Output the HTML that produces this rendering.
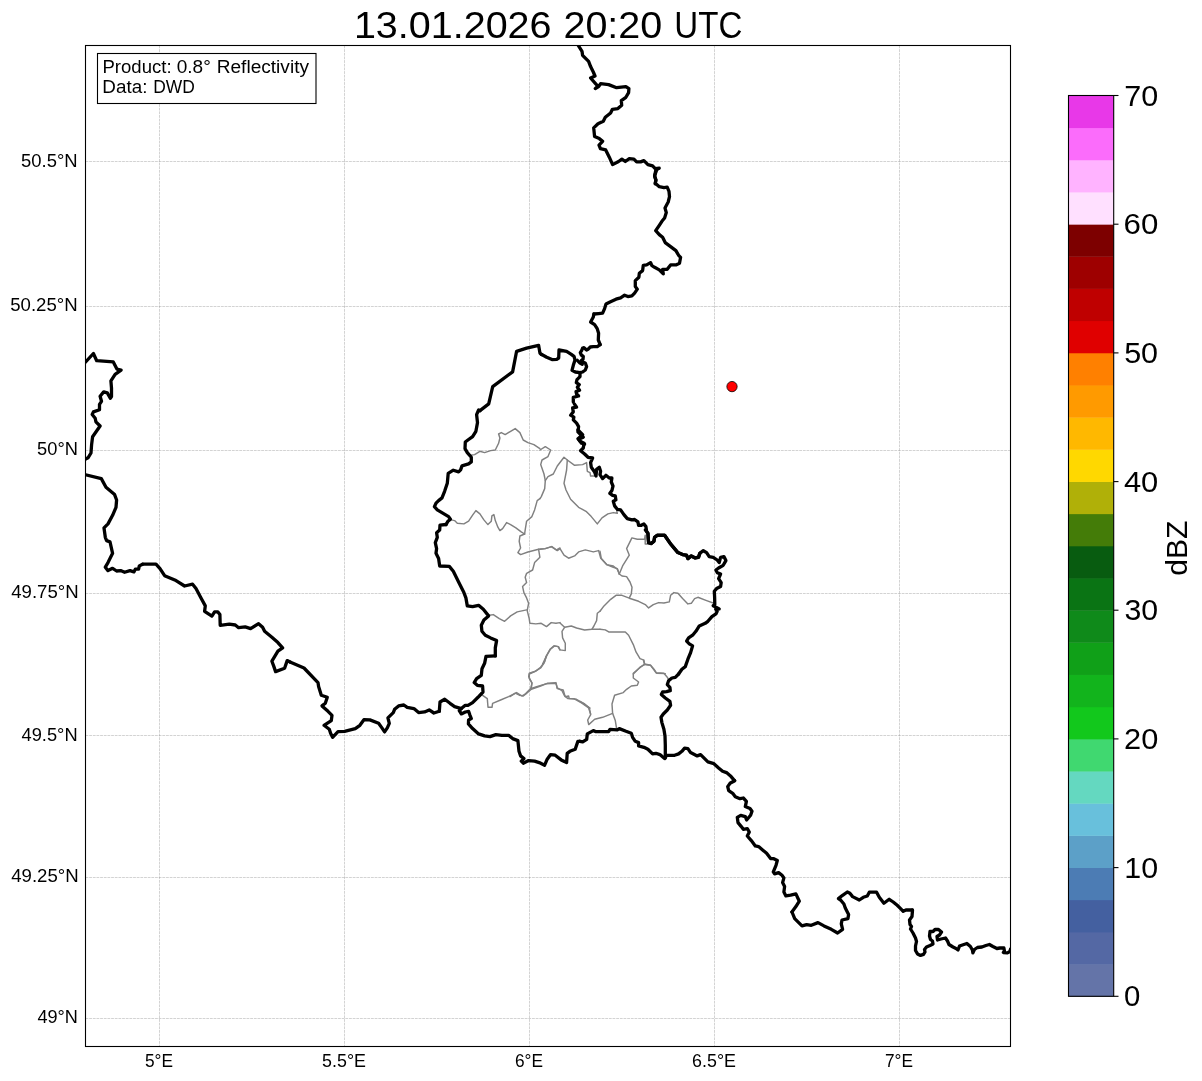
<!DOCTYPE html>
<html><head><meta charset="utf-8"><title>radar</title>
<style>
html,body{margin:0;padding:0;background:#fff;}
body{width:1202px;height:1081px;overflow:hidden;font-family:"Liberation Sans",sans-serif;}
svg{display:block;position:absolute;left:0;top:0;will-change:transform;}
text{font-family:"Liberation Sans",sans-serif;fill:#000;}
</style></head><body>
<svg width="1202" height="1081" viewBox="0 0 1202 1081">
<rect x="0" y="0" width="1202" height="1081" fill="#fff"/>
<defs><clipPath id="ax"><rect x="85.5" y="45.5" width="925.0" height="1001.0"/></clipPath></defs>
<g stroke="#808080" stroke-opacity="0.5" stroke-width="0.69" stroke-dasharray="2.8 0.86" fill="none">
<line x1="159.5" y1="45.5" x2="159.5" y2="1046.5"/>
<line x1="344.5" y1="45.5" x2="344.5" y2="1046.5"/>
<line x1="529.5" y1="45.5" x2="529.5" y2="1046.5"/>
<line x1="714.5" y1="45.5" x2="714.5" y2="1046.5"/>
<line x1="899.5" y1="45.5" x2="899.5" y2="1046.5"/>
<line x1="85.5" y1="1018.5" x2="1010.5" y2="1018.5"/>
<line x1="85.5" y1="877.5" x2="1010.5" y2="877.5"/>
<line x1="85.5" y1="735.5" x2="1010.5" y2="735.5"/>
<line x1="85.5" y1="593.5" x2="1010.5" y2="593.5"/>
<line x1="85.5" y1="450.5" x2="1010.5" y2="450.5"/>
<line x1="85.5" y1="306.5" x2="1010.5" y2="306.5"/>
<line x1="85.5" y1="161.5" x2="1010.5" y2="161.5"/>
</g>
<g clip-path="url(#ax)" fill="none" stroke-linejoin="round" stroke-linecap="round">
<path d="M540.0 450.0 L545.3 446.7 L550.7 450.0 L548.0 456.6 L542.0 460.0 L540.7 464.6 L544.0 474.0 L545.3 480.6 L544.7 488.6 L541.3 496.6 L540.0 498.6" stroke="#808080" stroke-width="1.45"/>
<path d="M545.3 480.6 L548.0 476.6 L553.3 474.0 L557.3 466.0 L564.0 457.3 L567.3 460.0 L574.6 465.3 L582.6 464.6 L586.6 462.6 L587.3 471.3 L590.0 472.6 L590.6 476.0 L594.6 476.0" stroke="#808080" stroke-width="1.45"/>
<path d="M567.3 460.0 L566.6 470.0 L564.0 483.3 L566.0 490.0 L570.6 499.3 L578.6 507.3 L586.0 511.3 L591.3 516.6 L597.3 523.9 L602.0 517.9 L607.9 513.9 L613.3 512.6 L617.3 513.3 L616.6 509.9" stroke="#808080" stroke-width="1.45"/>
<path d="M540.0 549.2 L545.3 548.6 L551.3 546.6 L557.3 550.6 L560.0 548.6 L564.0 555.2 L568.6 558.2 L574.6 555.9 L578.6 551.9 L585.3 549.9 L593.3 551.9 L598.6 550.6 L600.6 557.9 L606.6 564.6 L613.3 567.2 L617.3 568.6 L619.3 574.0" stroke="#808080" stroke-width="1.45"/>
<path d="M619.3 574.0 L622.6 565.9 L629.3 555.2 L626.6 548.6 L631.9 537.9 L637.3 539.2 L644.6 539.2 L645.2 535.2 L645.2 543.9 L647.9 543.9" stroke="#808080" stroke-width="1.45"/>
<path d="M619.3 574.0 L622.0 576.0 L626.6 576.6 L630.0 582.0 L632.0 587.3 L631.3 593.9 L629.3 597.9" stroke="#808080" stroke-width="1.45"/>
<path d="M600.0 551.3 L601.3 558.6 L606.7 564.6 L613.3 566.0 L617.3 569.3 L619.3 574.0" stroke="#808080" stroke-width="1.45"/>
<path d="M600.0 611.3 L604.0 605.9 L610.7 599.3 L616.0 595.3 L622.0 595.3 L629.3 598.2 L638.6 601.3 L645.3 604.6 L648.6 607.9 L653.3 604.6 L658.6 602.6 L663.9 603.0 L669.3 601.9 L670.6 595.3 L673.9 592.6 L677.9 593.3 L682.6 598.6 L687.9 603.9 L691.3 603.3 L694.6 598.6 L697.9 597.3 L706.6 600.6 L713.9 603.3" stroke="#808080" stroke-width="1.45"/>
<path d="M600.0 629.3 L605.3 629.9 L608.7 631.9 L625.3 631.9 L628.6 635.2 L633.3 644.6 L636.0 651.9 L640.0 658.6 L643.3 659.9 L644.6 664.6 L640.0 667.2 L633.3 674.0" stroke="#808080" stroke-width="1.45"/>
<path d="M644.6 664.6 L650.6 665.2 L654.0 669.2 L656.6 673.2 L665.3 673.6" stroke="#808080" stroke-width="1.45"/>
<path d="M643.9 660.0 L644.6 664.0 L638.6 668.7 L633.3 673.3 L633.3 678.0 L638.6 682.0 L637.3 685.3 L631.3 686.0 L626.6 689.3 L623.3 692.6 L614.6 695.3 L612.0 704.0 L612.6 713.3 L615.3 720.6 L616.6 728.6" stroke="#808080" stroke-width="1.45"/>
<path d="M644.6 664.0 L650.6 665.3 L655.9 672.7 L663.9 673.3 L667.3 677.3 L669.0 680.0" stroke="#808080" stroke-width="1.45"/>
<path d="M612.6 713.3 L602.6 717.3 L594.7 719.3 L588.7 724.6 L587.7 720.0 L590.7 714.6 L589.3 708.0 L584.7 704.0 L580.0 701.3" stroke="#808080" stroke-width="1.45"/>
<path d="M470.6 455.3 L474.6 454.6 L479.9 451.3 L484.6 452.6 L490.6 450.6 L495.3 450.0 L498.6 443.3 L499.9 438.0 L498.6 434.0 L501.3 432.6 L505.2 434.6 L510.6 431.3 L515.2 428.6 L519.9 432.6 L523.2 440.0 L527.9 442.6 L533.9 444.6 L539.9 448.6" stroke="#808080" stroke-width="1.45"/>
<path d="M539.9 498.6 L537.2 500.6 L534.6 509.9 L531.9 516.6 L526.6 521.2 L525.2 529.9 L524.6 534.0" stroke="#808080" stroke-width="1.45"/>
<path d="M451.3 519.9 L454.6 520.6 L457.3 523.2 L463.9 523.9 L468.6 521.2 L472.6 515.2 L475.9 510.6 L479.9 513.9 L483.9 519.9 L487.9 524.6 L491.3 521.2 L491.9 515.9 L493.9 514.6 L495.3 520.6 L497.9 527.2 L499.9 530.6 L502.6 528.6 L506.6 522.6 L510.6 524.6 L515.9 527.9 L521.2 531.9 L524.6 534.0" stroke="#808080" stroke-width="1.45"/>
<path d="M524.6 534.0 L519.9 536.0 L519.2 541.3 L520.6 548.0 L517.9 552.6 L520.6 554.6 L527.9 552.0 L538.6 549.3 L539.9 557.3 L534.6 562.6 L532.6 570.0 L526.6 573.3 L525.2 577.3 L526.6 582.6 L522.6 586.6 L523.9 592.6 L526.6 597.9 L528.6 603.3 L527.2 610.6 L529.2 618.6 L529.9 623.3 L535.9 623.9 L541.2 623.3 L546.5 626.6 L551.2 622.6 L555.9 623.3 L560.0 622.6" stroke="#808080" stroke-width="1.45"/>
<path d="M538.6 549.3 L545.2 548.6 L551.9 546.6 L556.5 550.0 L560.0 548.0" stroke="#808080" stroke-width="1.45"/>
<path d="M489.3 615.3 L493.3 614.6 L499.3 618.6 L504.6 621.3 L510.6 615.9 L517.2 611.9 L526.6 609.9" stroke="#808080" stroke-width="1.45"/>
<path d="M542.6 664.0 L546.5 655.9 L550.5 649.2 L554.5 645.9 L558.5 646.6 L560.0 649.9" stroke="#808080" stroke-width="1.45"/>
<path d="M482.6 695.3 L487.3 698.6 L488.0 707.3 L492.0 707.3 L492.6 703.3 L500.6 700.0 L508.6 696.6 L516.6 692.6 L521.9 696.0 L525.9 694.0 L531.3 689.3 L540.6 686.0 L547.2 683.3 L555.9 682.6 L557.2 688.6 L563.2 690.0 L565.2 696.6 L568.6 696.0 L569.2 698.6 L576.5 699.3 L583.2 703.3 L590.0 708.0" stroke="#808080" stroke-width="1.45"/>
<path d="M546.6 655.9 L543.9 663.3 L540.6 668.0 L535.2 671.3 L529.3 674.0 L529.3 678.6 L531.9 682.6 L531.3 689.3" stroke="#808080" stroke-width="1.45"/>
<path d="M599.9 611.3 L597.3 613.3 L596.6 620.6 L593.9 626.0 L591.9 629.3 L584.6 630.0 L576.6 628.0 L571.3 626.0 L564.6 627.3 L560.0 622.9" stroke="#808080" stroke-width="1.45"/>
<path d="M591.9 629.3 L599.9 629.3" stroke="#808080" stroke-width="1.45"/>
<path d="M564.6 627.3 L562.0 631.3 L562.6 637.9 L565.3 643.3 L565.3 650.6 L560.0 649.9 L558.0 646.6 L554.0 645.9 L550.0 649.3 L546.0 656.6 L544.6 661.9 L540.6 667.3 L535.3 671.3 L529.3 673.3 L528.7 676.6 L532.0 683.2 L530.7 688.6 L526.7 692.6 L523.3 695.9 L519.3 695.2 L515.3 693.2 L510.0 696.6" stroke="#808080" stroke-width="1.45"/>
<path d="M530.7 688.6 L536.6 686.6 L546.0 683.9 L556.0 683.2 L557.3 687.9 L562.0 690.6 L564.6 695.9 L568.0 698.6 L573.9 698.6 L581.9 703.2 L588.6 707.9 L590.6 714.0" stroke="#808080" stroke-width="1.45"/>
<path d="M578.4 45.6 L582.0 51.3 L582.6 55.3 L588.6 61.3 L590.6 66.6 L593.3 72.0 L595.0 76.0 L590.6 78.0 L595.3 83.3 L597.7 86.0 L595.3 88.6 L598.6 86.6 L600.6 83.7 L608.6 84.6 L616.6 87.7 L625.9 86.6 L628.9 88.6 L628.6 92.6 L625.9 97.3 L621.3 100.6 L621.7 105.3 L617.9 108.6 L612.4 109.3 L610.6 113.0 L605.3 117.3 L603.3 121.3 L598.0 123.7 L593.7 127.9 L594.6 136.6 L599.3 138.6 L602.6 141.3 L599.0 145.2 L600.4 148.6 L605.7 149.9 L609.3 157.2 L612.6 164.6 L618.6 161.5 L621.9 159.2 L625.3 161.5 L629.3 158.6 L633.9 159.2 L636.6 161.9 L640.6 161.9 L643.9 160.6 L647.9 164.6 L652.6 165.9 L655.2 168.6 L659.2 168.2 L655.9 169.9 L654.6 175.9 L655.9 179.9 L655.2 183.9" stroke="#000" stroke-width="3.3"/>
<path d="M656.6 170.0 L654.6 176.0 L655.9 180.0 L655.3 183.3 L659.3 186.7 L663.9 187.6 L667.2 187.1 L669.0 191.3 L669.5 196.6 L668.2 202.0 L665.0 208.0 L666.3 212.6 L664.6 218.0 L661.9 221.3 L659.3 225.3 L655.7 230.6 L659.3 234.6 L662.6 237.3 L665.2 242.6 L670.6 246.6 L675.9 250.6 L678.6 255.3 L680.6 257.3 L679.5 263.3 L675.9 264.9 L670.6 264.9 L667.2 269.3 L662.6 269.3 L663.3 273.9 L659.3 269.9 L654.6 267.3 L651.9 265.7 L650.6 262.6 L646.6 264.9 L643.3 265.3 L642.6 270.6 L639.3 273.3 L638.9 277.2 L635.3 280.6 L635.3 286.6 L637.3 289.2 L634.6 293.2 L631.9 295.9 L627.9 296.6 L624.6 295.2 L620.6 297.9 L616.0 299.2 L610.0 301.9 L606.0 303.9 L604.6 308.6 L602.6 313.2 L598.6 313.6 L594.0 314.0" stroke="#000" stroke-width="3.3"/>
<path d="M593.9 314.0 L593.2 317.3 L590.6 322.0 L594.6 324.6 L597.2 328.6 L598.6 333.3 L598.3 340.0 L600.2 344.6" stroke="#000" stroke-width="3.3"/>
<path d="M600.2 344.6 L599.6 345.0 L597.3 346.7 L593.3 346.7 L590.3 347.0 L588.0 349.3 L586.6 350.0 L584.0 347.7 L582.6 348.0 L581.6 350.7 L580.3 352.7 L581.3 355.0 L583.3 356.3 L583.0 359.3 L581.3 360.6 L582.6 362.0 L585.3 363.0 L586.6 366.6 L585.3 370.0 L582.6 372.0 L580.0 372.6 L580.0 376.6 L577.0 379.6 L576.3 382.6 L579.3 384.6 L577.3 387.3 L579.6 390.3 L576.0 391.6 L576.6 394.0 L578.6 396.0 L573.3 397.3 L573.3 402.0" stroke="#000" stroke-width="3.3"/>
<path d="M574.3 403.9 L576.6 407.2 L572.6 407.9 L573.3 411.9 L570.6 415.2 L573.9 417.2 L573.3 419.9 L576.6 423.2 L578.6 426.6 L577.9 431.9 L581.3 435.2 L583.3 437.2 L578.6 439.2 L581.3 443.2 L584.6 444.0" stroke="#000" stroke-width="3.3"/>
<path d="M580.0 372.6 L575.3 372.0 L572.0 370.3 L573.3 365.3 L575.0 360.0 L574.0 356.3 L571.3 354.3 L566.6 351.3 L559.0 350.0 L558.7 358.0 L556.7 359.3 L552.0 359.6 L546.7 357.3 L541.3 354.3" stroke="#000" stroke-width="3.3"/>
<path d="M541.3 354.4 L540.0 353.3 L538.6 345.3 L526.6 348.2 L516.6 351.3 L512.6 371.9 L492.7 386.6 L488.7 403.9 L480.0 410.6" stroke="#000" stroke-width="3.3"/>
<path d="M577.3 360.3 L580.0 363.0 L582.3 364.3" stroke="#000" stroke-width="3.3"/>
<path d="M578.0 430.0 L582.6 434.7 L578.0 438.7 L580.0 441.3 L584.0 443.3 L583.3 448.0 L580.6 450.7 L584.6 454.0 L588.0 457.3 L592.6 458.0 L590.6 462.6 L591.3 467.3 L594.6 472.0 L596.0 476.0 L596.6 469.3 L599.3 467.3 L600.6 471.3 L600.0 474.6 L602.6 478.6 L605.9 475.3 L609.3 478.0 L611.9 478.0 L611.3 482.0 L613.0 486.0 L611.9 490.6 L609.9 493.3 L612.6 495.3 L615.3 495.9 L615.9 499.9 L613.3 501.3 L614.6 505.9 L617.3 509.3 L620.6 509.9 L623.9 514.6 L627.3 518.6 L631.9 519.9 L634.6 519.5 L637.9 521.9 L638.6 525.3 L641.3 525.3 L643.9 523.9 L645.9 526.6 L646.6 531.3 L647.9 533.3 L648.2 537.9 L648.6 542.6 L651.2 543.5 L653.9 541.2 L654.6 537.2 L657.2 535.2 L664.6 535.2 L670.6 543.9 L677.9 552.6 L682.6 554.6 L686.5 555.2 L687.9 558.6 L691.2 555.9 L695.2 557.9 L698.5 557.2 L700.0 553.2" stroke="#000" stroke-width="3.3"/>
<path d="M645.3 530.0 L648.0 533.3 L648.2 538.0 L648.6 542.7 L651.3 543.6 L654.0 541.3 L654.6 537.3 L657.3 535.3 L664.6 535.3 L670.6 544.0 L677.9 552.6 L682.6 554.6 L686.6 555.3 L687.9 558.6 L691.3 556.0 L695.3 558.0 L698.6 557.3 L699.7 553.3 L703.3 550.7 L706.6 552.6 L709.2 556.6 L713.2 557.3 L717.2 560.0 L719.2 562.6 L720.6 557.3 L723.9 556.6 L725.9 560.6 L723.2 565.3 L718.6 568.0 L715.9 570.0 L717.2 572.6 L720.6 574.0 L718.6 578.6 L721.2 582.6 L720.6 586.6 L716.6 588.6 L714.3 591.3 L714.6 596.6 L714.8 604.6 L713.2 605.7 L719.2 608.9 L715.6 608.9 L717.2 611.3 L715.9 613.9 L711.9 616.6 L707.9 621.3 L705.2 623.3 L699.3 625.9 L695.9 631.3 L692.6 635.2 L688.6 637.9 L686.6 641.2 L689.3 643.9 L692.6 645.9 L690.6 652.6 L687.9 659.2 L685.3 666.6 L681.9 669.2 L678.6 674.0" stroke="#000" stroke-width="3.3"/>
<path d="M678.6 674.0 L675.3 677.3 L671.9 678.0 L668.6 680.7 L667.3 684.6 L669.9 687.3 L670.3 690.6 L666.6 691.7 L662.6 692.0 L661.3 694.6 L665.3 698.0 L669.9 701.3 L670.6 705.3 L667.3 710.0 L663.3 714.0 L661.0 717.3 L661.9 722.6 L663.9 729.3 L665.0 735.9 L665.3 745.3 L665.3 757.9" stroke="#000" stroke-width="3.3"/>
<path d="M580.0 741.3 L582.7 741.9 L586.7 739.3 L587.3 733.9 L593.3 730.6 L596.0 731.7 L608.6 731.7 L610.0 729.3 L617.3 729.9 L619.3 728.6 L626.0 731.3 L631.3 733.3 L632.6 737.3 L635.3 741.3 L638.6 742.6 L638.6 745.9 L643.9 747.3 L647.9 749.3 L652.6 753.9 L655.9 753.3 L659.9 754.6 L664.6 758.6 L666.6 755.3 L674.6 755.3 L678.6 753.9 L681.9 751.3 L684.6 748.2 L687.9 748.6 L690.6 752.6 L697.2 755.9 L700.6 754.6 L707.9 761.9 L713.9 763.7 L718.6 767.9 L722.6 771.2 L726.5 772.6 L730.5 775.9 L734.5 780.6" stroke="#000" stroke-width="3.3"/>
<path d="M734.7 780.7 L730.0 783.3 L727.7 786.7 L728.7 790.7 L732.7 793.3 L735.3 796.7 L740.0 798.7 L743.3 798.0 L746.4 801.3 L745.3 806.6 L750.0 808.6 L752.0 811.3 L750.6 815.3 L746.6 820.0 L745.3 816.6 L740.7 815.3 L737.3 817.3 L738.0 822.6 L741.3 826.6 L743.3 829.3 L747.3 828.6 L749.3 832.0 L747.3 836.0 L751.3 840.6 L755.3 845.9 L758.6 846.6 L762.6 849.9 L766.6 853.3 L770.6 858.6 L773.3 858.6 L777.3 860.6 L776.0 865.3 L773.3 871.9 L774.6 873.9 L778.6 872.6 L782.0 875.3 L783.9 877.9 L782.6 882.6 L784.6 886.6 L783.9 891.9 L785.9 895.9 L790.6 895.2 L795.9 893.9 L799.3 901.2 L795.9 906.6 L791.9 911.9" stroke="#000" stroke-width="3.3"/>
<path d="M792.0 912.0 L794.7 918.6 L798.7 922.6 L802.0 925.9 L806.6 924.6 L811.3 925.3 L818.0 922.6 L824.0 925.9 L831.3 929.3 L837.6 933.0 L842.6 929.3 L841.3 923.9 L842.0 920.0 L847.9 918.6 L848.6 914.6 L845.3 908.0 L843.9 904.0 L840.6 900.0 L838.4 898.6 L842.6 895.3 L847.3 892.0 L849.9 893.3 L852.6 896.6 L859.3 900.0 L863.3 897.3 L867.3 896.0 L869.3 892.2 L876.6 892.2 L879.3 897.3 L883.9 903.3 L889.2 899.3 L893.2 902.0 L897.2 905.3 L900.6 908.6 L903.2 911.3 L905.9 910.0 L911.9 910.0" stroke="#000" stroke-width="3.3"/>
<path d="M912.5 910.0 L912.0 916.5 L909.5 920.0 L910.0 924.5 L911.5 926.5 L910.5 929.0 L913.0 933.0 L915.5 938.0 L916.5 941.5 L915.5 946.0 L915.5 950.5 L917.5 953.9 L920.5 955.4 L923.5 954.4 L925.0 952.0 L924.5 949.5 L926.5 947.0 L930.0 945.5 L933.0 944.0 L932.5 941.0 L930.5 939.5 L929.5 936.0 L930.0 931.5 L933.0 931.5 L935.0 929.5 L938.5 929.5 L941.5 932.0 L939.5 935.0 L937.0 936.5 L937.5 940.0 L941.0 939.0 L945.5 938.0 L947.5 941.0 L949.0 944.5 L953.0 947.0 L956.0 948.5 L958.0 950.0 L959.5 946.0 L963.9 944.5 L966.9 943.5 L970.4 946.5 L972.4 950.0 L972.9 952.9 L974.4 949.5 L977.4 947.5 L981.9 947.0 L985.9 945.5 L989.4 944.5 L992.9 946.5 L996.9 948.5 L999.9 948.0 L1003.9 948.0 L1004.4 951.0 L1003.4 952.5 L1007.4 952.9 L1009.9 951.5 L1010.6 949.0 L1012.9 947.0" stroke="#000" stroke-width="3.3"/>
<path d="M479.9 410.7 L478.6 410.0 L476.6 414.6 L477.5 422.6 L475.9 431.3 L472.6 436.6 L467.9 440.0 L465.3 442.0 L465.0 448.6 L467.3 452.6 L471.3 457.3 L471.3 461.9 L468.6 463.9 L462.0 465.9 L460.6 469.9 L458.6 471.9 L453.3 470.2 L448.2 473.3 L447.3 483.3 L444.6 491.3 L442.0 497.9 L438.6 500.6 L436.0 503.2 L434.4 506.6 L437.3 509.9 L444.0 513.9 L448.6 516.6 L450.4 519.2 L448.0 521.2 L446.0 524.6" stroke="#000" stroke-width="3.3"/>
<path d="M446.1 524.5 L440.0 525.1 L439.7 530.0 L436.6 532.7 L437.3 537.3 L435.3 542.6 L436.6 548.6 L436.0 553.3 L438.6 558.6 L439.7 566.0 L449.3 566.4 L453.3 571.3 L458.6 582.0 L463.9 592.6 L465.9 597.9 L467.3 605.9 L472.6 606.6 L478.6 605.3 L483.3 609.3 L488.6 615.9 L483.9 619.9 L481.3 625.2 L481.9 631.2 L485.3 635.2 L490.6 637.9 L496.6 640.6 L495.3 647.9 L495.3 655.9" stroke="#000" stroke-width="3.3"/>
<path d="M495.3 655.9 L486.0 656.4 L484.6 663.3 L482.0 668.7 L481.3 675.3 L476.6 678.6 L474.2 682.6 L477.3 685.3 L482.6 686.0 L483.0 692.0 L478.0 697.3 L472.6 702.6 L468.0 705.3 L465.3 705.3 L461.3 708.6 L459.3 710.6 L461.3 713.9 L465.3 712.0 L468.6 711.3 L470.0 715.3 L471.3 718.6 L468.6 719.9 L468.4 723.9 L472.6 728.6 L478.6 733.9 L484.6 735.9 L490.0 736.6 L495.9 734.6 L501.9 735.3 L508.6 735.3 L512.6 738.6 L517.9 740.6 L519.0 751.3 L520.6 755.9 L523.9 758.6 L521.3 761.2 L523.3 763.2 L528.6 760.6 L534.6 761.2 L539.2 762.6 L544.6 765.2 L547.2 759.2 L550.6 754.6 L555.2 755.2 L561.2 759.9 L566.6 762.6 L567.2 753.3 L569.9 751.3 L575.2 749.3 L577.9 741.3 L580.0 741.3" stroke="#000" stroke-width="3.3"/>
<path d="M439.3 711.3 L440.0 702.0 L444.7 699.3 L450.0 703.3 L454.6 706.6 L461.3 708.6" stroke="#000" stroke-width="3.3"/>
<path d="M290.0 662.0 L304.0 668.0 L318.0 682.6 L318.6 686.6 L321.3 695.3 L327.3 697.3 L325.3 703.3 L322.0 705.9 L328.0 711.3 L332.0 715.3 L331.3 720.6 L324.0 725.3 L329.3 729.3 L330.6 733.3 L332.6 737.3 L338.0 731.7 L344.6 731.3 L355.3 728.6 L359.9 725.3 L363.9 719.7 L369.9 719.9 L378.6 723.3 L381.9 727.9 L384.6 731.9 L387.3 727.9 L389.3 723.3 L387.9 717.9 L393.3 712.6 L394.6 709.3 L398.6 705.9 L403.9 705.0 L407.2 707.3 L413.9 708.6 L418.6 712.6 L424.6 711.9 L429.2 709.9 L433.9 713.0 L439.3 711.3" stroke="#000" stroke-width="3.3"/>
<path d="M142.7 564.2 L156.0 564.2 L160.0 568.6 L164.6 575.7 L176.0 580.6 L184.6 586.0 L192.6 584.2 L196.0 588.6 L200.6 597.3 L205.3 605.9 L204.6 611.3 L211.9 616.2 L214.6 611.9 L217.9 611.9 L219.9 614.6 L220.2 625.3 L229.3 624.2 L235.3 625.0 L238.6 627.7 L245.2 626.9 L250.6 628.6 L258.6 623.7 L262.6 627.3 L264.6 631.3 L271.9 637.3 L277.9 642.6 L282.6 647.9 L277.9 651.2 L274.6 656.6 L271.9 661.2 L273.9 666.6 L275.6 671.6 L284.6 668.2 L287.2 660.6 L290.0 662.0" stroke="#000" stroke-width="3.3"/>
<path d="M83.3 474.2 L101.3 478.6 L106.0 487.3 L114.6 494.6 L116.6 500.0 L116.0 507.3 L112.6 515.3 L108.0 523.9 L104.0 527.9 L105.3 537.3 L106.6 540.6 L110.0 541.9 L112.6 553.3 L108.0 562.6 L105.3 567.2 L108.0 570.6 L112.6 568.3 L116.6 571.0 L120.6 570.6 L124.6 572.3 L130.0 570.6 L133.9 571.9 L135.3 569.2 L138.6 569.2 L139.3 565.9 L142.6 564.2" stroke="#000" stroke-width="3.3"/>
<path d="M82.6 365.2 L93.4 353.5 L96.7 360.7 L113.3 361.9 L116.9 369.1 L121.1 370.1 L115.1 374.3 L110.9 380.9 L111.5 388.1 L111.5 396.5 L110.3 398.3 L107.3 392.9 L103.7 391.9 L100.1 396.3 L101.5 401.3 L99.5 404.3 L99.5 409.7 L93.4 411.9 L92.2 414.5 L95.2 418.2 L95.9 421.8 L100.1 426.0 L95.9 432.0 L92.6 436.8 L91.6 444.6 L91.0 453.0 L88.0 457.8 L82.6 460.8" stroke="#000" stroke-width="3.3"/>
</g>
<circle cx="732" cy="386.6" r="5.15" fill="#ff0000" stroke="#000" stroke-width="0.8"/>
<rect x="85.5" y="45.5" width="925.0" height="1001.0" fill="none" stroke="#000" stroke-width="1.1"/>
<rect x="97.5" y="53.5" width="218.5" height="50" fill="#fff" stroke="#000" stroke-width="1.1"/>
<rect x="1068.5" y="964.13" width="45.2" height="32.57" fill="#6474A8"/>
<rect x="1068.5" y="931.96" width="45.2" height="32.57" fill="#5468A4"/>
<rect x="1068.5" y="899.79" width="45.2" height="32.57" fill="#4460A0"/>
<rect x="1068.5" y="867.61" width="45.2" height="32.57" fill="#4C7CB4"/>
<rect x="1068.5" y="835.44" width="45.2" height="32.57" fill="#5CA0C8"/>
<rect x="1068.5" y="803.27" width="45.2" height="32.57" fill="#68C0DC"/>
<rect x="1068.5" y="771.10" width="45.2" height="32.57" fill="#64D8C0"/>
<rect x="1068.5" y="738.93" width="45.2" height="32.57" fill="#40D870"/>
<rect x="1068.5" y="706.76" width="45.2" height="32.57" fill="#12C81C"/>
<rect x="1068.5" y="674.59" width="45.2" height="32.57" fill="#12B41C"/>
<rect x="1068.5" y="642.41" width="45.2" height="32.57" fill="#10A018"/>
<rect x="1068.5" y="610.24" width="45.2" height="32.57" fill="#0F8A1A"/>
<rect x="1068.5" y="578.07" width="45.2" height="32.57" fill="#0A7414"/>
<rect x="1068.5" y="545.90" width="45.2" height="32.57" fill="#085C10"/>
<rect x="1068.5" y="513.73" width="45.2" height="32.57" fill="#447C08"/>
<rect x="1068.5" y="481.56" width="45.2" height="32.57" fill="#B0B008"/>
<rect x="1068.5" y="449.39" width="45.2" height="32.57" fill="#FFD800"/>
<rect x="1068.5" y="417.21" width="45.2" height="32.57" fill="#FFB800"/>
<rect x="1068.5" y="385.04" width="45.2" height="32.57" fill="#FF9A00"/>
<rect x="1068.5" y="352.87" width="45.2" height="32.57" fill="#FF8000"/>
<rect x="1068.5" y="320.70" width="45.2" height="32.57" fill="#E00000"/>
<rect x="1068.5" y="288.53" width="45.2" height="32.57" fill="#BF0000"/>
<rect x="1068.5" y="256.36" width="45.2" height="32.57" fill="#9E0000"/>
<rect x="1068.5" y="224.19" width="45.2" height="32.57" fill="#7D0000"/>
<rect x="1068.5" y="192.01" width="45.2" height="32.57" fill="#FFE0FF"/>
<rect x="1068.5" y="159.84" width="45.2" height="32.57" fill="#FFB3FF"/>
<rect x="1068.5" y="127.67" width="45.2" height="32.57" fill="#FB6CFB"/>
<rect x="1068.5" y="95.50" width="45.2" height="32.57" fill="#E838E8"/>
<rect x="1068.5" y="95.5" width="45.2" height="900.8" fill="none" stroke="#000" stroke-width="1.1"/>
<line x1="1113.7" y1="996.3" x2="1118.5" y2="996.3" stroke="#000" stroke-width="1.1"/>
<line x1="1113.7" y1="867.6" x2="1118.5" y2="867.6" stroke="#000" stroke-width="1.1"/>
<line x1="1113.7" y1="738.9" x2="1118.5" y2="738.9" stroke="#000" stroke-width="1.1"/>
<line x1="1113.7" y1="610.2" x2="1118.5" y2="610.2" stroke="#000" stroke-width="1.1"/>
<line x1="1113.7" y1="481.6" x2="1118.5" y2="481.6" stroke="#000" stroke-width="1.1"/>
<line x1="1113.7" y1="352.9" x2="1118.5" y2="352.9" stroke="#000" stroke-width="1.1"/>
<line x1="1113.7" y1="224.2" x2="1118.5" y2="224.2" stroke="#000" stroke-width="1.1"/>
<line x1="1113.7" y1="95.5" x2="1118.5" y2="95.5" stroke="#000" stroke-width="1.1"/>
<text x="353.92" y="37.8" font-size="36.98" textLength="197.62" lengthAdjust="spacingAndGlyphs">13.01.2026</text>
<text x="563.42" y="37.8" font-size="36.98" textLength="98.88" lengthAdjust="spacingAndGlyphs">20:20</text>
<text x="674.34" y="37.8" font-size="36.98" textLength="67.98" lengthAdjust="spacingAndGlyphs">UTC</text>
<text x="102.51" y="72.5" font-size="17.5" textLength="69.07" lengthAdjust="spacingAndGlyphs">Product:</text>
<text x="176.71" y="72.5" font-size="17.75" textLength="34.1" lengthAdjust="spacingAndGlyphs">0.8°</text>
<text x="216.72" y="72.5" font-size="17.5" textLength="92.28" lengthAdjust="spacingAndGlyphs">Reflectivity</text>
<text x="102.38" y="92.5" font-size="17.5" textLength="44.98" lengthAdjust="spacingAndGlyphs">Data:</text>
<text x="153.18" y="92.5" font-size="17.75" textLength="41.61" lengthAdjust="spacingAndGlyphs">DWD</text>
<text x="37.44" y="1023.0" font-size="17.75" textLength="40.49" lengthAdjust="spacingAndGlyphs">49°N</text>
<text x="11.19" y="882.0" font-size="17.75" textLength="67.43" lengthAdjust="spacingAndGlyphs">49.25°N</text>
<text x="21.54" y="741.0" font-size="17.75" textLength="56.08" lengthAdjust="spacingAndGlyphs">49.5°N</text>
<text x="11.19" y="598.0" font-size="17.75" textLength="67.43" lengthAdjust="spacingAndGlyphs">49.75°N</text>
<text x="37.12" y="455.0" font-size="17.75" textLength="40.84" lengthAdjust="spacingAndGlyphs">50°N</text>
<text x="10.23" y="311.0" font-size="17.75" textLength="67.41" lengthAdjust="spacingAndGlyphs">50.25°N</text>
<text x="21.13" y="167.0" font-size="17.75" textLength="56.52" lengthAdjust="spacingAndGlyphs">50.5°N</text>
<text x="144.93" y="1067.0" font-size="17.75" textLength="28.05" lengthAdjust="spacingAndGlyphs">5°E</text>
<text x="322.13" y="1067.0" font-size="17.75" textLength="43.82" lengthAdjust="spacingAndGlyphs">5.5°E</text>
<text x="514.93" y="1067.0" font-size="17.75" textLength="28.05" lengthAdjust="spacingAndGlyphs">6°E</text>
<text x="692.12" y="1067.0" font-size="17.75" textLength="43.84" lengthAdjust="spacingAndGlyphs">6.5°E</text>
<text x="884.93" y="1067.0" font-size="17.75" textLength="28.05" lengthAdjust="spacingAndGlyphs">7°E</text>
<text x="1124.08" y="1006.4" font-size="29.58" textLength="16.33" lengthAdjust="spacingAndGlyphs">0</text>
<text x="1124.28" y="877.71" font-size="29.58" textLength="33.83" lengthAdjust="spacingAndGlyphs">10</text>
<text x="1124.12" y="749.03" font-size="29.58" textLength="34.22" lengthAdjust="spacingAndGlyphs">20</text>
<text x="1124.43" y="620.34" font-size="29.58" textLength="33.64" lengthAdjust="spacingAndGlyphs">30</text>
<text x="1123.95" y="491.66" font-size="29.58" textLength="34.38" lengthAdjust="spacingAndGlyphs">40</text>
<text x="1124.15" y="362.97" font-size="29.58" textLength="33.92" lengthAdjust="spacingAndGlyphs">50</text>
<text x="1123.61" y="234.29" font-size="29.58" textLength="34.74" lengthAdjust="spacingAndGlyphs">60</text>
<text x="1124.37" y="105.6" font-size="29.58" textLength="33.97" lengthAdjust="spacingAndGlyphs">70</text>
<text x="0" y="0" font-size="29.58" textLength="55.08" lengthAdjust="spacingAndGlyphs" transform="translate(1186.80 575.8) rotate(-90)">dBZ</text>
</svg>
</body></html>
